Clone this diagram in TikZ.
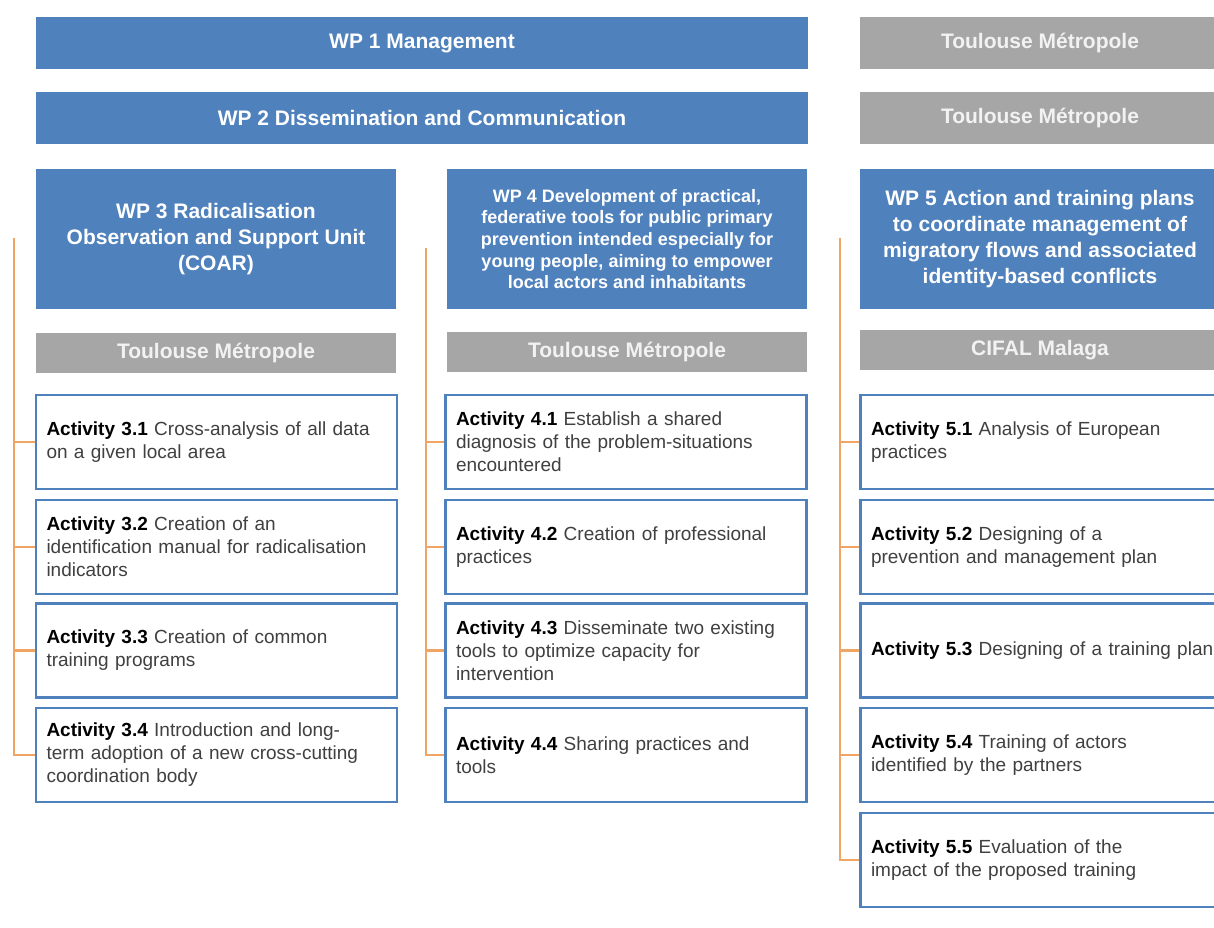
\documentclass[tikz,border=0pt]{standalone}
\usepackage{fontspec}
\setmainfont{Liberation Sans}
\usepackage{tikz}

\definecolor{wpblue}{RGB}{79,129,189}
\definecolor{wpgray}{RGB}{166,166,166}
\definecolor{wpline}{RGB}{240,165,100}
\definecolor{acttext}{RGB}{64,64,64}
\newcommand{\act}[1]{\textbf{\color{black}Activity #1}}

\begin{document}
\begin{tikzpicture}[x=1pt,y=-1pt]

\tikzstyle{wpbar}=[rectangle,fill=wpblue,text=white,font=\bfseries\fontsize{21}{26}\selectfont,align=center,inner sep=0pt]
\tikzstyle{partner}=[rectangle,fill=wpgray,text=white!95!black,font=\bfseries\fontsize{21}{26}\selectfont,minimum width=360pt,minimum height=40pt,inner sep=0pt]
\tikzstyle{activity}=[rectangle,draw=wpblue,line width=2.5pt,fill=white,text=acttext,font=\fontsize{19}{23}\selectfont,align=left,text width=340pt,inner xsep=10.5pt,minimum height=94pt]
\tikzstyle{branch}=[draw=wpline,line width=2.2pt]

\clip (0,0) rectangle (1214,927);
\fill[white] (0,0) rectangle (1214,927);

% management and dissemination
\node[wpbar,minimum width=772pt,minimum height=52pt] (wp1) at (422,43) {WP 1 Management};
\node[partner,minimum height=52pt] (lead1) at (1040,43) {Toulouse Métropole};
\node[wpbar,minimum width=772pt,minimum height=52pt] (wp2) at (422,118) {WP 2 Dissemination and Communication};
\node[partner,minimum height=52pt] (lead2) at (1040,118) {Toulouse Métropole};

% work package heads
\node[wpbar,minimum width=360pt,minimum height=140pt] (wp3) at (216,239) {WP 3 Radicalisation\\Observation and Support Unit\\(COAR)};
\node[wpbar,minimum width=360pt,minimum height=140pt,font=\bfseries\fontsize{18}{21.7}\selectfont] (wp4) at (627,239) {WP 4 Development of practical,\\federative tools for public primary\\prevention intended especially for\\young people, aiming to empower\\local actors and inhabitants};
\node[wpbar,minimum width=360pt,minimum height=140pt] (wp5) at (1040,239) {WP 5 Action and training plans\\to coordinate management of\\migratory flows and associated\\identity-based conflicts};

\node[partner] (lead3) at (216,353) {Toulouse Métropole};
\node[partner] (lead4) at (627,352) {Toulouse Métropole};
\node[partner] (lead5) at (1040,350) {CIFAL Malaga};

% WP 3 activities
\node[activity] (a31) at (216.5,442) {\act{3.1} Cross-analysis of all data\\on a given local area};
\node[activity] (a32) at (216.5,547) {\act{3.2} Creation of an\\identification manual for radicalisation\\indicators};
\node[activity] (a33) at (216.5,650.5) {\act{3.3} Creation of common\\training programs};
\node[activity] (a34) at (216.5,755) {\act{3.4} Introduction and long-\\term adoption of a new cross-cutting\\coordination body};

% WP 4 activities
\node[activity] (a41) at (626,442) {\act{4.1} Establish a shared\\diagnosis of the problem-situations\\encountered};
\node[activity] (a42) at (626,547) {\act{4.2} Creation of professional\\practices};
\node[activity] (a43) at (626,650.5) {\act{4.3} Disseminate two existing\\tools to optimize capacity for\\intervention};
\node[activity] (a44) at (626,755) {\act{4.4} Sharing practices and\\tools};

% WP 5 activities
\node[activity] (a51) at (1041,442) {\act{5.1} Analysis of European\\practices};
\node[activity] (a52) at (1041,547) {\act{5.2} Designing of a\\prevention and management plan};
\node[activity] (a53) at (1041,650.5) {\mbox{\act{5.3} Designing of a training plan}};
\node[activity] (a54) at (1041,755) {\act{5.4} Training of actors\\identified by the partners};
\node[activity] (a55) at (1041,860) {\act{5.5} Evaluation of the\\impact of the proposed training};

% orange brackets
\coordinate (top3) at (14,238);
\coordinate (top4) at (426,248);
\coordinate (top5) at (840,238);
\draw[branch] (top3) |- (a34.west);
\draw[branch] (top4) |- (a44.west);
\draw[branch] (top5) |- (a55.west);
\foreach \i in {1,2,3} {
  \draw[branch] (a3\i.west) -- (a3\i.west -| top3);
  \draw[branch] (a4\i.west) -- (a4\i.west -| top4);
}
\foreach \i in {1,2,3,4}
  \draw[branch] (a5\i.west) -- (a5\i.west -| top5);

\end{tikzpicture}
\end{document}
